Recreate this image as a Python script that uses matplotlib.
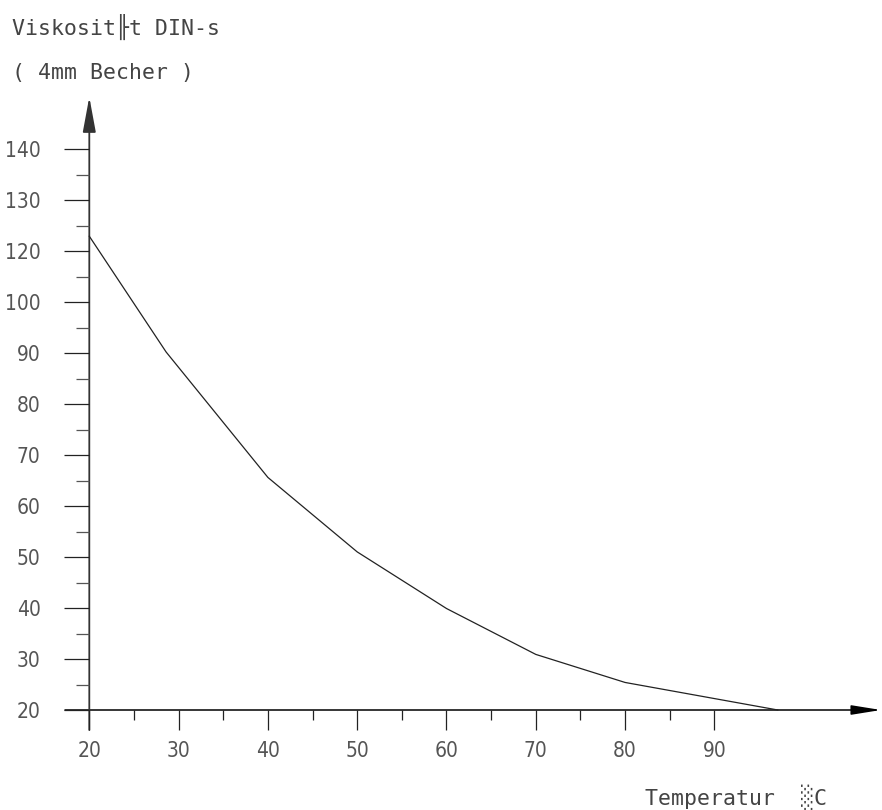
import matplotlib.pyplot as plt
from matplotlib.patches import FancyArrowPatch

# temperature (deg C) and viscosity; y values are in axis position units
# (the axis labels skip 110, so position 110 carries the label "120")
temperature = [20, 28.6, 40, 50, 60, 70, 80, 97.1]
viscosity = [112.9, 90.2, 65.6, 51.0, 39.9, 30.9, 25.4, 20.0]

x_major = [20, 30, 40, 50, 60, 70, 80, 90]
x_minor = [25, 35, 45, 55, 65, 75, 85]
x_labels = ['20', '30', '40', '50', '60', '70', '80', '90']

y_major = [20, 30, 40, 50, 60, 70, 80, 90, 100, 110, 120, 130]
y_minor = [25, 35, 45, 55, 65, 75, 85, 95, 105, 115, 125]
y_labels = ['20', '30', '40', '50', '60', '70', '80', '90', '100', '120', '130', '140']

title_1 = 'Viskosit╟t DIN-s'
title_2 = '( 4mm Becher )'
x_title = 'Temperatur  ░C'

plt.rcParams['font.family'] = ['DejaVu Sans Mono', 'DejaVu Sans']

W, H = 882, 810
fig = plt.figure(figsize=(W / 100, H / 100), dpi=100)
ax = fig.add_axes([0, 0, 1, 1])

# pixel geometry: x=20 at px 89.3, 10 units = 89.3 px; y=20 at px 710, 10 units = 51 px
x0_px, xs = 89.3, 8.93
y0_px, ys = 710.0, 5.1
ax.set_xlim(20 - x0_px / xs, 20 + (W - x0_px) / xs)
ax.set_ylim(20 - (H - y0_px) / ys, 20 + y0_px / ys)

for s in ['top', 'right']:
    ax.spines[s].set_visible(False)
ax.spines['left'].set_position(('data', 20))
ax.spines['bottom'].set_position(('data', 20))
ax.spines['left'].set_visible(False)
ax.spines['bottom'].set_visible(False)

ax.set_xticks(x_major)
ax.set_xticks(x_minor, minor=True)
ax.set_xticklabels(x_labels)
ax.set_yticks(y_major)
ax.set_yticks(y_minor, minor=True)
ax.set_yticklabels(y_labels)

tick_font = dict(family='DejaVu Sans', stretch='condensed', size=15)
for lbl in ax.get_xticklabels() + ax.get_yticklabels():
    lbl.set_fontproperties(tick_font)

ax.tick_params(axis='x', which='major', direction='out', length=14.4, width=0.9,
               color='#222222', pad=8, labelcolor='#555555')
ax.tick_params(axis='x', which='minor', direction='out', length=7.2, width=0.9, color='#222222')
ax.tick_params(axis='y', which='major', direction='out', length=18, width=0.9,
               color='#222222', pad=17, labelcolor='#555555')
ax.tick_params(axis='y', which='minor', direction='out', length=9.4, width=0.9, color='#555555')

# axis lines with arrow heads
x_arrow = FancyArrowPatch((20 - 24.3 / xs, 20), (20 + (W - 1 - x0_px) / xs, 20),
                          arrowstyle='-|>,head_length=18,head_width=2.9', mutation_scale=1,
                          shrinkA=0, shrinkB=0, color='black', lw=1.1)
y_arrow = FancyArrowPatch((20, 20 - 20 / ys), (20, 20 + (y0_px - 97) / ys),
                          arrowstyle='-|>,head_length=21.6,head_width=4', mutation_scale=1,
                          shrinkA=0, shrinkB=0, color='#333333', lw=1.3)
ax.add_patch(x_arrow)
ax.add_patch(y_arrow)

ax.plot(temperature, viscosity, color='#222222', lw=0.9)

fig.text(12 / W, 1 - 27 / H, title_1, fontsize=15.5, color='#444444', va='center', ha='left')
fig.text(12 / W, 1 - 73 / H, title_2, fontsize=15.5, color='#444444', va='center', ha='left')
fig.text(645 / W, 1 - 797 / H, x_title, fontsize=15.5, color='#444444', va='center', ha='left')

fig.savefig('out.png', dpi=100, facecolor='white')
